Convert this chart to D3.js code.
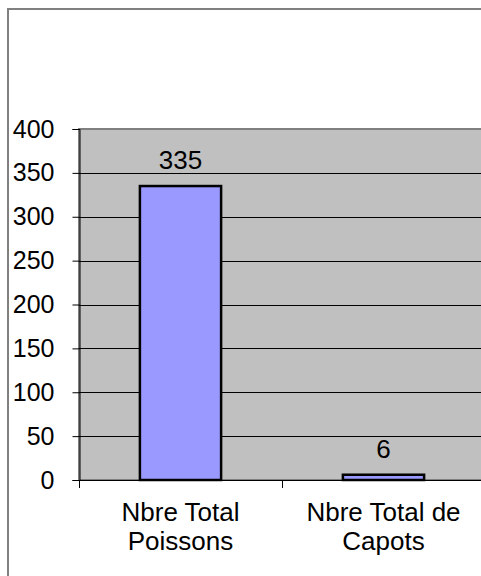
<!DOCTYPE html>
<html>
<head>
<meta charset="utf-8">
<script src="https://cdn.jsdelivr.net/npm/d3@7"></script>
<style>
  body { margin: 0; background: #fff; }
  text { font-family: "Liberation Sans", Arial, sans-serif; fill: #000; }
</style>
</head>
<body>
<svg id="chart" width="481" height="576"></svg>
<script>
// data
const categories = [["Nbre Total", "Poissons"], ["Nbre Total de", "Capots"]];
const values = [335, 6];
const yTicks = [0, 50, 100, 150, 200, 250, 300, 350, 400];

const svg = d3.select("#chart");
const tickFont = 25;
const labelFont = 26;

// outer chart frame (runs off the right and bottom of the picture)
svg.append("rect")
    .attr("x", 8).attr("y", 9)
    .attr("width", 490).attr("height", 590)
    .attr("fill", "#fff")
    .attr("stroke", "#808080")
    .attr("stroke-width", 2);

const plot = {left: 79, top: 129, right: 485, bottom: 480};

const y = d3.scaleLinear().domain([0, 400]).range([plot.bottom, plot.top]);
const x = d3.scaleBand()
    .domain(d3.range(values.length))
    .range([plot.left, plot.right])
    .paddingInner(0.6)
    .paddingOuter(0.3);

// plot area
svg.append("rect")
    .attr("x", plot.left).attr("y", plot.top)
    .attr("width", plot.right - plot.left).attr("height", plot.bottom - plot.top)
    .attr("fill", "#c0c0c0")
    .attr("stroke", "#808080")
    .attr("stroke-width", 2);

// gridlines
svg.append("g")
    .selectAll("line")
    .data(yTicks.filter(d => d > 0 && d < 400))
    .enter()
    .append("line")
    .attr("x1", plot.left).attr("x2", plot.right)
    .attr("y1", d => Math.round(y(d)) + 0.5)
    .attr("y2", d => Math.round(y(d)) + 0.5)
    .attr("stroke", "#000")
    .attr("stroke-width", 1);

// y axis
const yAxis = svg.append("g")
    .attr("transform", `translate(${plot.left + 0.5},0)`)
    .call(d3.axisLeft(y).tickValues(yTicks).tickSize(7).tickPadding(18));
yAxis.select(".domain").attr("stroke", "#000");
yAxis.selectAll(".tick line").attr("stroke", "#000");
yAxis.selectAll(".tick text")
    .attr("font-size", tickFont)
    .attr("font-family", "Liberation Sans, Arial, sans-serif")
    .attr("fill", "#000");

// x axis line with category separators
svg.append("line")
    .attr("x1", plot.left).attr("x2", plot.right)
    .attr("y1", plot.bottom + 0.5).attr("y2", plot.bottom + 0.5)
    .attr("stroke", "#000");
const step = x.step();
svg.append("g")
    .selectAll("line")
    .data(d3.range(values.length + 1))
    .enter()
    .append("line")
    .attr("x1", i => Math.round(plot.left + i * step) + 0.5)
    .attr("x2", i => Math.round(plot.left + i * step) + 0.5)
    .attr("y1", plot.bottom)
    .attr("y2", plot.bottom + 8)
    .attr("stroke", "#000");

// bars
svg.append("g")
    .selectAll("rect")
    .data(values)
    .enter()
    .append("rect")
    .attr("x", (d, i) => x(i))
    .attr("y", d => y(d))
    .attr("width", x.bandwidth())
    .attr("height", d => plot.bottom - y(d))
    .attr("fill", "#9999ff")
    .attr("stroke", "#000")
    .attr("stroke-width", 2.5);

// value labels
svg.append("g")
    .selectAll("text")
    .data(values)
    .enter()
    .append("text")
    .attr("x", (d, i) => x(i) + x.bandwidth() / 2)
    .attr("y", d => y(d) - 17)
    .attr("text-anchor", "middle")
    .attr("font-size", labelFont)
    .text(d => d);

// category labels (two lines each)
const catLabels = svg.append("g")
    .selectAll("text")
    .data(categories)
    .enter()
    .append("text")
    .attr("text-anchor", "middle")
    .attr("font-size", labelFont);
catLabels.selectAll("tspan")
    .data((d, i) => d.map(t => ({t: t, i: i})))
    .enter()
    .append("tspan")
    .attr("x", d => x(d.i) + x.bandwidth() / 2)
    .attr("y", (d, j) => 521 + j * 29)
    .text(d => d.t);
</script>
</body>
</html>
